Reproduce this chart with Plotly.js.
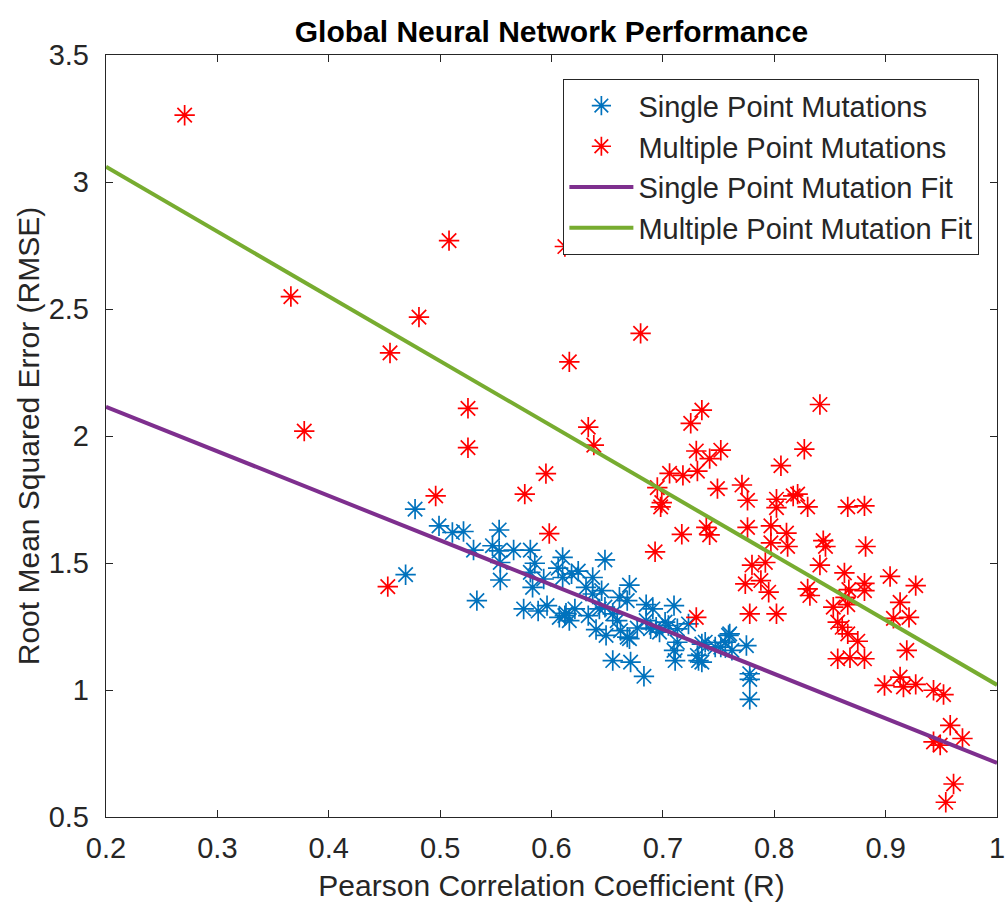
<!DOCTYPE html>
<html>
<head>
<meta charset="utf-8">
<script src="https://cdn.plot.ly/plotly-3.0.1.min.js"></script>
<style>html,body{margin:0;padding:0;background:#fff;}#chart{width:1007px;height:907px;}</style>
</head>
<body>
<div id="chart"></div>
<script>
// Single point mutations (blue)
const singleR = [0.4775,0.499,0.511,0.521,0.553,0.530,0.547,0.553,0.566,0.581,0.554,0.585,0.581,0.554,0.583,0.469,0.533,0.575,0.588,0.610,0.606,0.593,0.610,0.618,0.596,0.612,0.616,0.648,0.624,0.637,0.631,0.637,0.645,0.670,0.661,0.668,0.685,0.613,0.621,0.633,0.648,0.655,0.659,0.640,0.649,0.662,0.670,0.677,0.685,0.689,0.655,0.671,0.683,0.710,0.697,0.705,0.713,0.723,0.710,0.713,0.711,0.731,0.735,0.738,0.760,0.756,0.752,0.762,0.775,0.778,0.778,0.778,0.607,0.643,0.694,0.702,0.735,0.747,0.759,0.732,0.668,0.691];
const singleRMSE = [1.712,1.646,1.620,1.624,1.630,1.551,1.568,1.548,1.551,1.551,1.502,1.499,1.463,1.433,1.404,1.454,1.352,1.319,1.311,1.522,1.480,1.437,1.443,1.457,1.332,1.293,1.273,1.512,1.468,1.443,1.404,1.378,1.391,1.413,1.365,1.352,1.336,1.302,1.319,1.293,1.326,1.300,1.273,1.238,1.215,1.234,1.202,1.244,1.273,1.241,1.116,1.110,1.054,1.332,1.228,1.254,1.241,1.260,1.156,1.188,1.116,1.136,1.110,1.188,1.221,1.188,1.169,1.156,1.175,1.064,1.042,0.963,1.286,1.319,1.247,1.267,1.181,1.169,1.215,1.116,1.208,1.319];

// Multiple point mutations (red)
const multiR = [0.2706,0.366,0.481,0.455,0.508,0.378,0.525,0.525,0.595,0.616,0.612,0.496,0.576,0.598,0.453,0.633,0.638,0.680,0.725,0.735,0.841,0.827,0.806,0.730,0.752,0.742,0.706,0.718,0.731,0.749,0.771,0.776,0.802,0.802,0.817,0.821,0.830,0.866,0.881,0.717,0.739,0.742,0.776,0.797,0.797,0.811,0.812,0.844,0.846,0.882,0.780,0.792,0.841,0.863,0.904,0.927,0.774,0.788,0.795,0.830,0.832,0.867,0.881,0.881,0.853,0.866,0.913,0.907,0.921,0.778,0.802,0.730,0.857,0.861,0.866,0.875,0.919,0.857,0.868,0.881,0.913,0.899,0.916,0.927,0.943,0.952,0.958,0.969,0.943,0.949,0.961,0.954,0.695,0.699,0.698,0.693,0.864];
const multiRMSE = [3.263,2.549,2.468,2.327,2.769,2.019,2.109,1.954,1.852,2.292,2.746,1.764,1.771,1.616,1.407,2.035,1.964,2.404,2.050,2.102,2.124,1.948,1.883,1.941,1.944,1.911,1.853,1.845,1.862,1.793,1.807,1.747,1.751,1.718,1.764,1.771,1.721,1.721,1.725,1.613,1.640,1.611,1.640,1.646,1.579,1.618,1.565,1.588,1.565,1.565,1.492,1.502,1.492,1.461,1.447,1.411,1.418,1.431,1.385,1.398,1.372,1.395,1.420,1.391,1.326,1.336,1.345,1.282,1.286,1.300,1.300,1.286,1.267,1.247,1.221,1.192,1.156,1.123,1.127,1.123,1.051,1.018,1.012,1.022,0.999,0.982,0.861,0.809,0.796,0.783,0.630,0.558,1.797,1.738,1.721,1.544,1.365];

// Linear fits (endpoints at the axis limits)
const fitR = [0.2, 1.0];
const singleFit = [2.115, 0.713];
const multiFit = [3.06, 1.02];

// Tick labels
const xTickVals = [0.2, 0.3, 0.4, 0.5, 0.6, 0.7, 0.8, 0.9, 1.0];
const xTickText = ['0.2', '0.3', '0.4', '0.5', '0.6', '0.7', '0.8', '0.9', '1'];
const yTickVals = [0.5, 1, 1.5, 2, 2.5, 3, 3.5];
const yTickText = ['0.5', '1', '1.5', '2', '2.5', '3', '3.5'];

const FONT = 'Liberation Sans, Arial, Helvetica, sans-serif';
const TXT = '#262626';

const traces = [
  {x: singleR, y: singleRMSE, type: 'scatter', mode: 'markers', name: 'Single Point Mutations',
   marker: {symbol: 'asterisk-open', size: 17, color: '#0072BD', line: {color: '#0072BD', width: 1.7}}},
  {x: multiR, y: multiRMSE, type: 'scatter', mode: 'markers', name: 'Multiple Point Mutations',
   marker: {symbol: 'asterisk-open', size: 17, color: '#FF0000', line: {color: '#FF0000', width: 1.7}}},
  {x: fitR, y: singleFit, type: 'scatter', mode: 'lines', name: 'Single Point Mutation Fit',
   line: {color: '#7E2F8E', width: 4}},
  {x: fitR, y: multiFit, type: 'scatter', mode: 'lines', name: 'Multiple Point Mutation Fit',
   line: {color: '#77AC30', width: 4}}
];

const axisCommon = {
  showgrid: false, zeroline: false, showline: true, mirror: 'ticks',
  linecolor: TXT, linewidth: 1.2, ticks: 'inside', ticklen: 7, tickcolor: TXT, tickwidth: 1,
  tickfont: {family: FONT, size: 29, color: TXT}, ticklabeloverflow: 'allow'
};

const layout = {
  width: 1007, height: 907,
  margin: {l: 106, r: 10, t: 55, b: 90},
  paper_bgcolor: '#ffffff', plot_bgcolor: '#ffffff',
  showlegend: true,
  title: {text: '<b>Global Neural Network Performance</b>', x: 0.5, xref: 'paper',
          y: 1 - 31/907, yref: 'container', yanchor: 'middle',
          font: {family: FONT, size: 30, color: '#000'}},
  xaxis: Object.assign({}, axisCommon, {range: [0.2, 1], tickmode: 'array', tickvals: xTickVals, ticktext: xTickText,
          ticklabelstandoff: 5,
          title: {text: 'Pearson Correlation Coefficient (R)', standoff: 12, font: {family: FONT, size: 30, color: TXT}}}),
  yaxis: Object.assign({}, axisCommon, {range: [0.5, 3.5], tickmode: 'array', tickvals: yTickVals, ticktext: yTickText,
          ticklabelstandoff: 10,
          title: {text: 'Root Mean Squared Error (RMSE)', standoff: 0, font: {family: FONT, size: 30, color: TXT}}}),
  legend: {x: 0.98, xanchor: 'right', y: 0.9685, yanchor: 'top', bgcolor: '#ffffff',
           bordercolor: TXT, borderwidth: 1.2, font: {family: FONT, size: 29, color: TXT},
           tracegroupgap: 0, itemwidth: 64}
};

Plotly.newPlot('chart', traces, layout, {displayModeBar: false, staticPlot: true});
</script>
</body>
</html>
